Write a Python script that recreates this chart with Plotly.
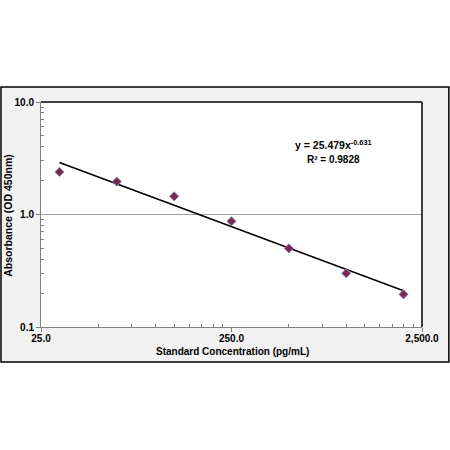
import plotly.graph_objects as go

# Data
concentration = [31.25, 62.5, 125, 250, 500, 1000, 2000]
absorbance = [2.39, 1.96, 1.45, 0.87, 0.50, 0.30, 0.195]
trend_coef = 25.479
trend_exp = -0.631
x_tickvals = [25, 250, 2500]
x_ticktext = ["25.0", "250.0", "2,500.0"]
y_tickvals = [0.1, 1, 10]
y_ticktext = ["0.1", "1.0", "10.0"]
x_minor = [25 * k for k in range(2, 10)] + [250 * k for k in range(2, 10)]
y_minor = [0.1 * k for k in range(2, 10)] + [1.0 * k for k in range(2, 10)]

trend_x = [min(concentration), max(concentration)]
trend_y = [trend_coef * v ** trend_exp for v in trend_x]

FONT = "Liberation Sans, Arial, sans-serif"
BOLD = dict(family=FONT, size=10, color="black", weight="bold")

fig = go.Figure()
fig.add_trace(go.Scatter(
    x=trend_x, y=trend_y, mode="lines",
    line=dict(color="black", width=1.6), hoverinfo="skip", showlegend=False))
fig.add_trace(go.Scatter(
    x=concentration, y=absorbance, mode="markers",
    marker=dict(symbol="diamond", size=7, color="#7a2a50",
                line=dict(color="#8585b5", width=1)),
    showlegend=False))

fig.update_layout(
    width=450, height=450,
    margin=dict(l=41, r=28, t=102, b=123),
    paper_bgcolor="white", plot_bgcolor="white",
    font=dict(family=FONT, color="black"),
    xaxis=dict(
        type="log", range=[1.39794, 3.39794], automargin=False,
        tickvals=x_tickvals, ticktext=x_ticktext,
        ticks="outside", ticklen=4, tickcolor="#808080",
        ticklabelstandoff=-2,
        showline=True, linecolor="#808080", linewidth=1,
        showgrid=False, zeroline=False, tickfont=BOLD,
        minor=dict(tickvals=x_minor, ticks="inside", ticklen=3,
                   tickcolor="#808080", showgrid=False),
    ),
    yaxis=dict(
        type="log", range=[-1, 1], automargin=False,
        tickvals=y_tickvals, ticktext=y_ticktext,
        ticks="outside", ticklen=4, tickcolor="#808080",
        showline=True, linecolor="#808080", linewidth=1,
        showgrid=True, gridcolor="#a0a0a0", gridwidth=1.2, zeroline=False,
        tickfont=BOLD,
        minor=dict(tickvals=y_minor, ticks="inside", ticklen=3,
                   tickcolor="#808080", showgrid=False),
    ),
    shapes=[
        dict(type="rect", xref="paper", yref="paper",
             x0=-0.105, x1=1.0705, y0=-0.1556, y1=1.0667,
             fillcolor="#f2f2f2", line=dict(color="black", width=1.5),
             layer="below"),
        dict(type="rect", xref="paper", yref="paper",
             x0=0, x1=1, y0=0, y1=1,
             fillcolor="white", line=dict(width=0), layer="below"),
        dict(type="line", xref="paper", yref="paper",
             x0=0, x1=1, y0=1, y1=1, line=dict(color="black", width=1.5)),
        dict(type="line", xref="paper", yref="paper",
             x0=1, x1=1, y0=0, y1=1, line=dict(color="black", width=1.5)),
    ],
    annotations=[
        dict(xref="paper", yref="paper", x=0.503, y=-0.108, xanchor="center",
             yanchor="middle", showarrow=False,
             text="Standard Concentration (pg/mL)", font=BOLD),
        dict(xref="paper", yref="paper", x=-0.087, y=0.498, xanchor="center",
             yanchor="middle", showarrow=False, textangle=-90,
             text="Absorbance (OD 450nm)",
             font=dict(family=FONT, size=10.5, color="black", weight="bold")),
        dict(xref="paper", yref="paper", x=0.767, y=0.775, xanchor="center",
             yanchor="bottom", showarrow=False,
             text="y = 25.479x<sup>-0.631</sup>",
             font=dict(family=FONT, size=10.5, color="black", weight="bold")),
        dict(xref="paper", yref="paper", x=0.767, y=0.777, xanchor="center",
             yanchor="top", showarrow=False,
             text="R² = 0.9828", font=BOLD),
    ],
)

fig.write_html("out.html",
               config={"displayModeBar": False},
               post_script="document.body.style.margin='0px';")
